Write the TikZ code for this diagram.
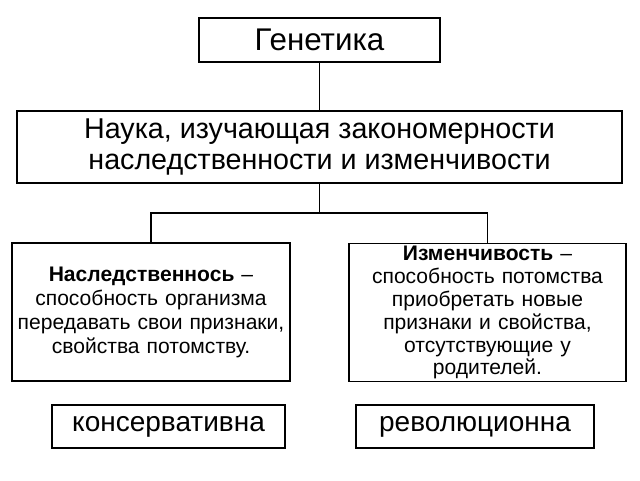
\documentclass[tikz,border=0pt]{standalone}
\usepackage{fontspec}
\setmainfont{Liberation Sans}
\begin{document}
\begin{tikzpicture}[x=0.75pt,y=-0.75pt,
 bx/.style={draw,line width=0.8pt,inner sep=0pt,align=center}]
\useasboundingbox (0,0) rectangle (640,480);
\node[bx,minimum width=241*0.75pt,minimum height=44*0.75pt,font=\fontsize{23.5}{26}\selectfont] (g) at (319.5,40) {Генетика};
\node[bx,minimum width=605*0.75pt,minimum height=72*0.75pt,font=\fontsize{21.5}{23}\selectfont] (n) at (319.5,147) {Наука, изучающая закономерности\\наследственности и изменчивости};
\node[bx,minimum width=278*0.75pt,minimum height=138*0.75pt,text width=276*0.75pt,font=\fontsize{15.8}{18}\selectfont] (l) at (151,312) {\textbf{Наследственнось} –\\способность организма\\передавать свои признаки,\\свойства потомству.};
\node[bx,minimum width=277*0.75pt,minimum height=138*0.75pt,text width=275*0.75pt,font=\fontsize{15.8}{17.2}\selectfont,anchor=north] (r) at (487.5,243) {\textbf{Изменчивость} –\\способность потомства\\приобретать новые\\признаки и свойства,\\отсутствующие у\\родителей.};
\node[bx,minimum width=233*0.75pt,minimum height=43*0.75pt,font=\fontsize{21}{23}\selectfont] (k) at (168.5,426.5) {консервативна};
\node[bx,minimum width=238*0.75pt,minimum height=43*0.75pt,font=\fontsize{21}{23}\selectfont] (v) at (475,426.5) {революционна};
\draw[line width=0.8pt] (g.south) -- (n.north);
\coordinate (m) at (319.5,213);
\draw[line width=0.8pt] (n.south) -- (m);
\draw[line width=0.8pt] (l.north) -- (151,213) -- (487.5,213) -- (r.north);
\end{tikzpicture}
\end{document}
